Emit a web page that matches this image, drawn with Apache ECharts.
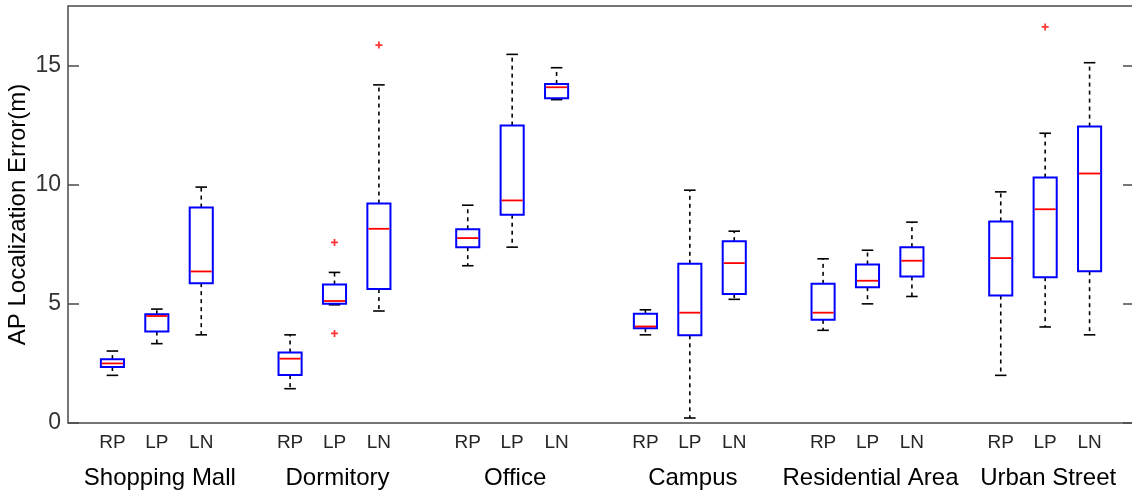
<!DOCTYPE html>
<html>
<head>
<meta charset="utf-8">
<script src="https://cdn.jsdelivr.net/npm/echarts@6/dist/echarts.min.js"></script>
<style>
  html, body { margin: 0; padding: 0; background: #fff; }
  #main { width: 1132px; height: 493px; }
</style>
</head>
<body>
<div id="main"></div>
<script>
// scenarios and methods
var groups = ['Shopping Mall', 'Dormitory', 'Office', 'Campus', 'Residential Area', 'Urban Street'];
var methods = ['RP', 'LP', 'LN'];

// box statistics, ordered group by group: RP, LP, LN
var whiskerLow  = [2.00, 3.33, 3.70, 1.44, 4.96, 4.70, 6.60, 7.38, 13.57, 3.70, 0.21, 5.19, 3.89, 5.00, 5.31, 2.00, 4.03, 3.70];
var q1          = [2.35, 3.84, 5.87, 2.01, 5.00, 5.62, 7.38, 8.74, 13.63, 3.98, 3.68, 5.41, 4.33, 5.70, 6.15, 5.35, 6.12, 6.37];
var median      = [2.50, 4.49, 6.36, 2.70, 5.12, 8.15, 7.76, 9.34, 14.09, 4.05, 4.63, 6.71, 4.63, 5.97, 6.81, 6.92, 8.97, 10.47];
var q3          = [2.68, 4.56, 9.04, 2.96, 5.81, 9.21, 8.13, 12.48, 14.23, 4.58, 6.68, 7.63, 5.84, 6.65, 7.38, 8.46, 10.30, 12.44];
var whiskerHigh = [3.02, 4.78, 9.90, 3.70, 6.32, 14.19, 9.14, 15.47, 14.91, 4.75, 9.77, 8.05, 6.89, 7.25, 8.43, 9.70, 12.16, 15.12];

// outliers: [box index, value]
var outliers = [[4, 7.58], [4, 3.76], [5, 15.86], [16, 16.62]];

var yTicks = [0, 5, 10, 15];

var FONT = 'Liberation Sans, Arial, Helvetica, sans-serif';

function boxPos(k) {
    return Math.floor(k / 3) * 4 + (k % 3);
}

var boxData = [];
for (var k = 0; k < median.length; k++) {
    boxData.push([boxPos(k), whiskerLow[k], q1[k], median[k], q3[k], whiskerHigh[k]]);
}
var outlierData = outliers.map(function (o) { return [boxPos(o[0]), o[1]]; });

function methodLabel(v) {
    if (v < 0) return '';
    var g = Math.floor(v / 4), i = v - g * 4;
    if (g >= groups.length || i > 2) return '';
    return methods[i];
}
function groupLabel(v) {
    if (v < 0) return '';
    var g = Math.floor(v / 4), i = v - g * 4;
    if (g >= groups.length || i !== 1) return '';
    return groups[g];
}

function renderBox(params, api) {
    var x = api.value(0);
    var pLow = api.coord([x, api.value(1)]);
    var pQ1 = api.coord([x, api.value(2)]);
    var pMed = api.coord([x, api.value(3)]);
    var pQ3 = api.coord([x, api.value(4)]);
    var pHigh = api.coord([x, api.value(5)]);
    var bw = api.size([1, 0])[0] * 0.52;
    var half = bw / 2, capHalf = bw / 4;
    var cx = pMed[0];
    var dash = { stroke: '#000', lineWidth: 1.6, lineDash: [4, 4] };
    var solid = { stroke: '#000', lineWidth: 1.6 };
    return {
        type: 'group',
        children: [
            { type: 'line', shape: { x1: cx, y1: pQ3[1], x2: cx, y2: pHigh[1] }, style: dash },
            { type: 'line', shape: { x1: cx, y1: pQ1[1], x2: cx, y2: pLow[1] }, style: dash },
            { type: 'line', shape: { x1: cx - capHalf, y1: pHigh[1], x2: cx + capHalf, y2: pHigh[1] }, style: solid },
            { type: 'line', shape: { x1: cx - capHalf, y1: pLow[1], x2: cx + capHalf, y2: pLow[1] }, style: solid },
            { type: 'rect', shape: { x: cx - half, y: pQ3[1], width: bw, height: pQ1[1] - pQ3[1] },
              style: { fill: 'none', stroke: '#0000ff', lineWidth: 2 } },
            { type: 'line', shape: { x1: cx - half + 1, y1: pMed[1], x2: cx + half - 1, y2: pMed[1] },
              style: { stroke: '#ff0000', lineWidth: 1.8 } }
        ]
    };
}

var chart = echarts.init(document.getElementById('main'));
var option = {
    animation: false,
    backgroundColor: '#fff',
    grid: {
        left: 68, top: 6, width: 1066, height: 417,
        outerBoundsMode: 'none',
        show: true, borderColor: '#4a4a4a', borderWidth: 1.5, backgroundColor: 'transparent'
    },
    xAxis: [{
        type: 'value', min: -1, max: 23, interval: 1,
        axisLine: { show: false, onZero: false }, axisTick: { show: false }, splitLine: { show: false },
        axisLabel: {
            formatter: methodLabel, margin: 10, fontSize: 19, color: '#262626', fontFamily: FONT,
            showMinLabel: false, showMaxLabel: false
        }
    }, {
        type: 'value', min: -1, max: 23, interval: 1, position: 'bottom',
        axisLine: { show: false, onZero: false }, axisTick: { show: false }, splitLine: { show: false },
        axisLabel: {
            formatter: groupLabel, margin: 43, fontSize: 24, color: '#000', fontFamily: FONT,
            showMinLabel: false, showMaxLabel: false, padding: [0, 0, 0, 6]
        }
    }],
    yAxis: [{
        type: 'value', min: 0, max: 17.5, interval: 5, position: 'left',
        name: 'AP Localization Error(m)', nameLocation: 'middle', nameGap: 38,
        nameMoveOverlap: false,
        nameTextStyle: { fontSize: 24, color: '#000', fontFamily: FONT },
        axisLine: { show: false, onZero: false }, splitLine: { show: false },
        axisTick: { show: true, inside: true, length: 11, customValues: yTicks,
                    lineStyle: { color: '#4a4a4a', width: 1.5 } },
        axisLabel: {
            fontSize: 23, color: '#333', fontFamily: FONT, margin: 7, customValues: yTicks
        }
    }, {
        type: 'value', min: 0, max: 17.5, interval: 5, position: 'right',
        axisLine: { show: false, onZero: false }, splitLine: { show: false }, axisLabel: { show: false },
        axisTick: { show: true, inside: true, length: 11, customValues: yTicks,
                    lineStyle: { color: '#4a4a4a', width: 1.5 } }
    }],
    series: [{
        type: 'custom',
        xAxisIndex: 0, yAxisIndex: 0,
        renderItem: renderBox,
        encode: { x: 0, y: [1, 2, 3, 4, 5] },
        data: boxData
    }, {
        type: 'scatter',
        xAxisIndex: 0, yAxisIndex: 0,
        symbol: 'path://M3,0H5V3H8V5H5V8H3V5H0V3H3Z',
        symbolSize: 7,
        itemStyle: { color: '#ff0000' },
        data: outlierData
    }]
};
chart.setOption(option);
</script>
</body>
</html>
